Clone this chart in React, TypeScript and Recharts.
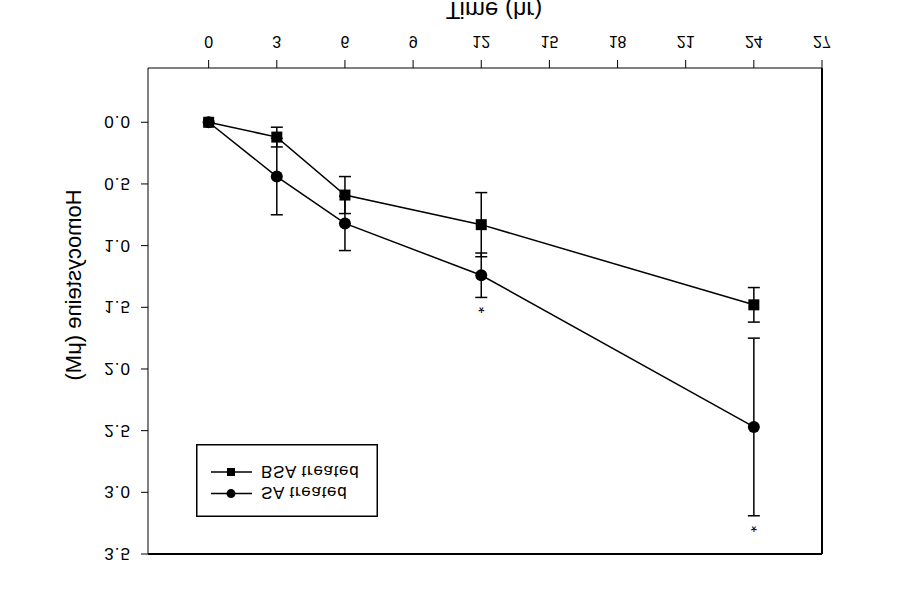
import React from 'react';
import { LineChart, Line, XAxis, YAxis, ErrorBar, ReferenceLine, Legend, LabelList, Label } from 'recharts';

const hours = [0, 3, 6, 12, 24];
const bsaTreated = [0, 0.12, 0.59, 0.83, 1.48];
const bsaSd = [0, 0.08, 0.15, 0.26, 0.14];
const saTreated = [0, 0.44, 0.82, 1.24, 2.47];
const saSd = [0, 0.31, 0.22, 0.18, 0.72];
const saSignificant = [false, false, false, true, true];
const xTicks = [0, 3, 6, 9, 12, 15, 18, 21, 24, 27];
const yTicks = [0, 0.5, 1, 1.5, 2, 2.5, 3, 3.5];
const seriesNames = ['SA treated', 'BSA treated'];

const data = hours.map((h, i) => ({
  hour: h,
  bsa: bsaTreated[i],
  bsaErr: bsaSd[i],
  sa: saTreated[i],
  saErr: saSd[i],
  saStar: saSignificant[i] ? saTreated[i] + saSd[i] : null,
}));

const FONT = '"Liberation Sans", Arial, sans-serif';

const SquareDot = (props: any) => {
  const { cx, cy } = props;
  if (cx == null || cy == null) return null;
  return <rect x={cx - 5.5} y={cy - 5.5} width={11} height={11} fill="#000" />;
};
const CircleDot = (props: any) => {
  const { cx, cy } = props;
  if (cx == null || cy == null) return null;
  return <circle cx={cx} cy={cy} r={6} fill="#000" />;
};

const StarLabel = (props: any) => {
  const { x, y, value } = props;
  if (value == null || x == null || y == null) return null;
  return (
    <text x={x} y={y - 4} textAnchor="middle" fontSize={16} fontFamily={FONT} fill="#000">*</text>
  );
};

const LegendBox = () => (
  <svg width={182} height={73} style={{ display: 'block' }}>
    <rect x={0.75} y={0.75} width={180.5} height={71.5} fill="#fff" stroke="#000" strokeWidth={1.5} />
    <line x1={15} y1={23.4} x2={56} y2={23.4} stroke="#000" strokeWidth={1.5} />
    <circle cx={35} cy={23.4} r={4.5} fill="#000" />
    <text x={65} y={23.4} dy="0.36em" fontSize={17} fontFamily={FONT} letterSpacing={0.7} fill="#000">{seriesNames[0]}</text>
    <line x1={15} y1={45} x2={56} y2={45} stroke="#000" strokeWidth={1.5} />
    <rect x={31} y={41} width={8} height={8} fill="#000" />
    <text x={65} y={45} dy="0.36em" fontSize={17} fontFamily={FONT} letterSpacing={0.7} fill="#000">{seriesNames[1]}</text>
  </svg>
);

export default function App() {
  return (
    <div style={{ position: 'absolute', left: 0, top: 0, width: 897, height: 610, background: '#fff', transform: 'scaleY(-1)' }}>
      <LineChart width={897} height={610} data={data} margin={{ top: 56, right: 75, bottom: 0, left: 0 }}>
        <XAxis
          dataKey="hour"
          type="number"
          domain={[-2.67, 27]}
          allowDataOverflow
          ticks={xTicks}
          height={68}
          tickSize={8}
          tickMargin={13}
          axisLine={{ stroke: '#000', strokeWidth: 1 }}
          tickLine={{ stroke: '#000', strokeWidth: 1 }}
          tick={{ fill: '#000', fontSize: 16, fontFamily: FONT }}
        >
          <Label
            content={() => (
              <text x={494} y={608} textAnchor="middle" fontSize={24} fontFamily={FONT} fill="#000">Time (hr)</text>
            )}
          />
        </XAxis>
        <YAxis
          type="number"
          domain={[-0.44, 3.5]}
          allowDataOverflow
          ticks={yTicks}
          width={148}
          tickSize={7}
          tickMargin={10}
          tickFormatter={(v: number) => v.toFixed(1)}
          axisLine={{ stroke: '#000', strokeWidth: 1 }}
          tickLine={{ stroke: '#000', strokeWidth: 1 }}
          tick={{ fill: '#000', fontSize: 17, fontFamily: FONT, letterSpacing: 1 }}
        >
          <Label
            content={() => (
              <text x={73} y={325} transform="rotate(-90 73 325)" textAnchor="middle" dominantBaseline="central" fontSize={22} fontFamily={FONT} fill="#000">Homocysteine (μM)</text>
            )}
          />
        </YAxis>
        <ReferenceLine x={27} stroke="#000" strokeWidth={2} ifOverflow="visible" />
        <ReferenceLine y={3.5} stroke="#000" strokeWidth={2} ifOverflow="visible" />
        <Line
          dataKey="sa"
          stroke="#000"
          strokeWidth={1.5}
          dot={<CircleDot />}
          activeDot={false}
          isAnimationActive={false}
          legendType="circle"
        >
          <ErrorBar dataKey="saErr" width={6} stroke="#000" strokeWidth={1.5} direction="y" isAnimationActive={false} />
        </Line>
        <Line
          dataKey="bsa"
          stroke="#000"
          strokeWidth={1.5}
          dot={<SquareDot />}
          activeDot={false}
          isAnimationActive={false}
          legendType="square"
        >
          <ErrorBar dataKey="bsaErr" width={6} stroke="#000" strokeWidth={1.5} direction="y" isAnimationActive={false} />
        </Line>
        <Line
          dataKey="saStar"
          stroke="none"
          dot={false}
          activeDot={false}
          isAnimationActive={false}
          legendType="none"
        >
          <LabelList dataKey="saStar" content={<StarLabel />} />
        </Line>
        <Legend
          layout="vertical"
          align="center"
          verticalAlign="middle"
          content={() => <LegendBox />}
          wrapperStyle={{ position: 'absolute', left: 196, top: 93, width: 182, height: 73 }}
        />
      </LineChart>
    </div>
  );
}
